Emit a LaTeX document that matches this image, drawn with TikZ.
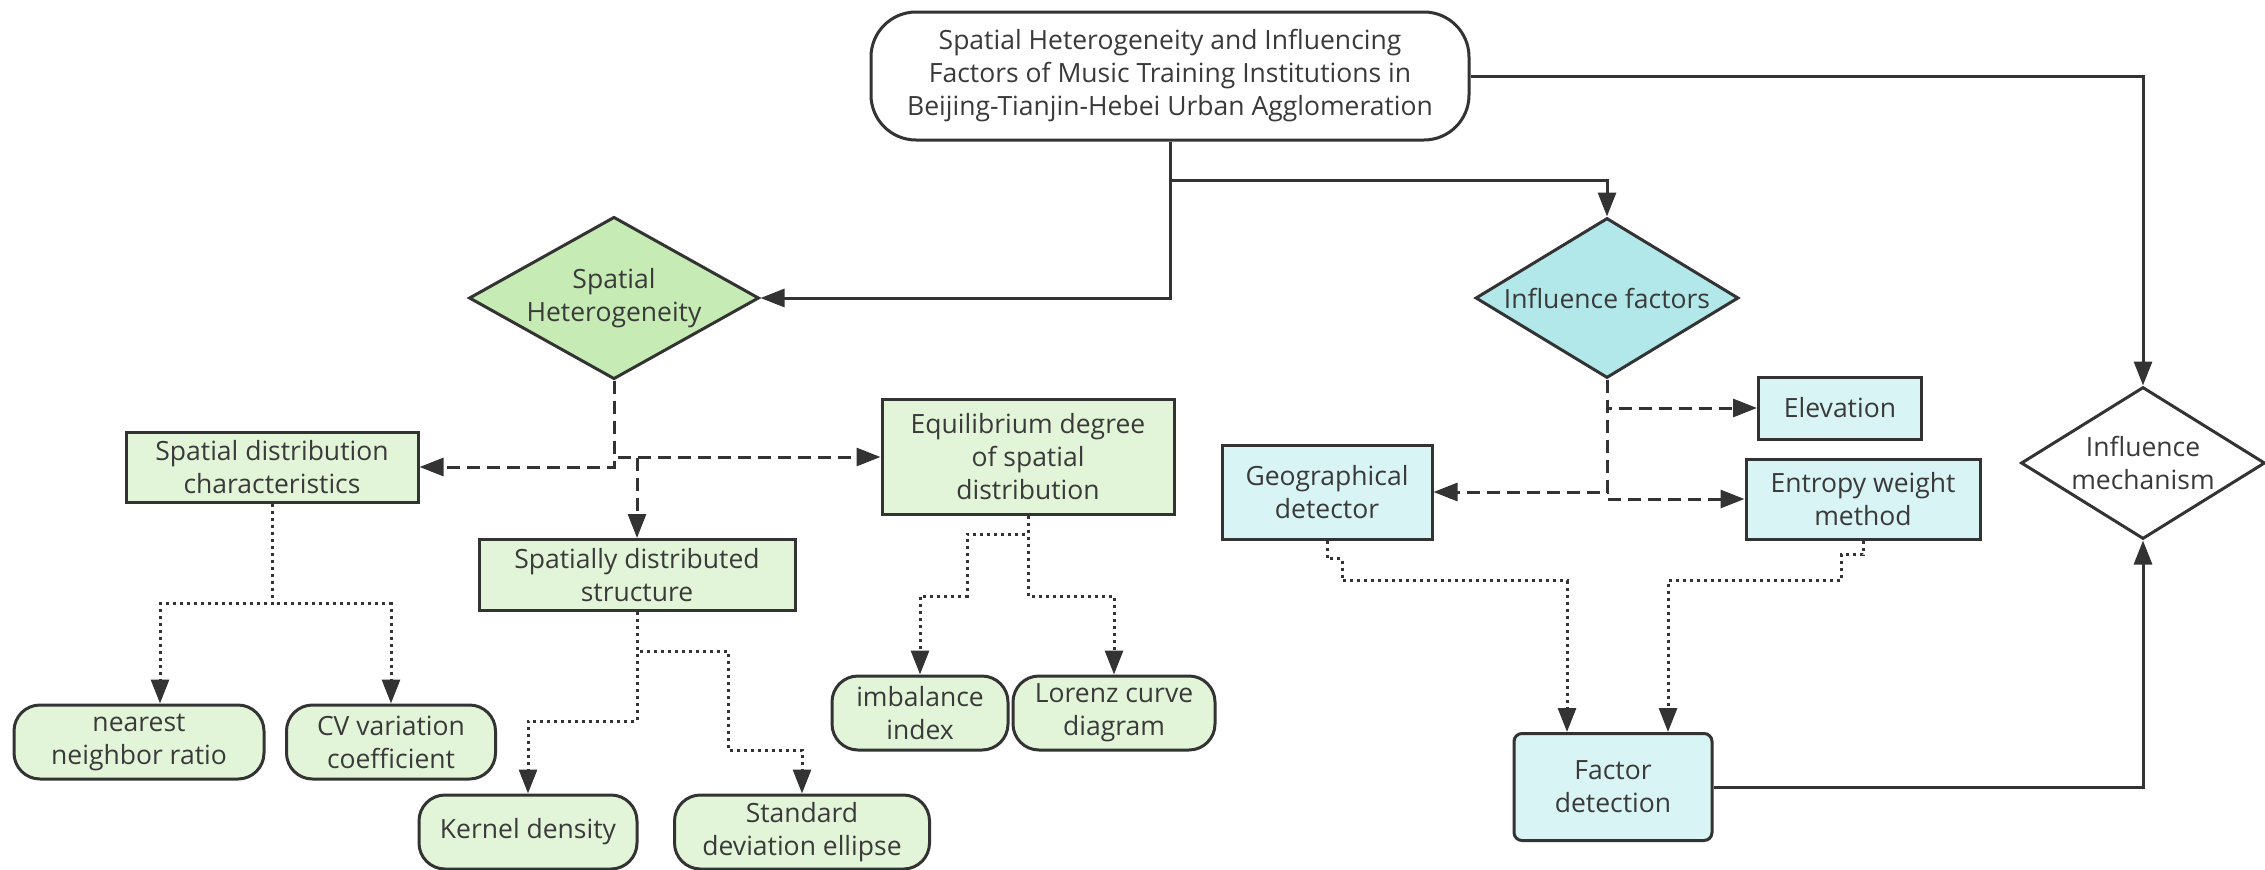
\documentclass[tikz,border=0pt]{standalone}
\usepackage{fontspec}
\setmainfont{Open Sans}
\usetikzlibrary{shapes.geometric,arrows.meta}
\definecolor{linegray}{HTML}{333333}
\definecolor{textgray}{HTML}{3A3A3A}
\definecolor{greendia}{HTML}{C7EBB5}
\definecolor{greenfill}{HTML}{E3F5D9}
\definecolor{cyandia}{HTML}{B3E8EA}
\definecolor{cyanfill}{HTML}{D9F4F4}
\begin{document}
\begin{tikzpicture}[x=1pt,y=-1pt,
		font=\fontsize{26.5}{33}\selectfont,
		every node/.style={align=center,inner sep=0pt,text=textgray,draw=linegray,line width=3pt},
		greenbox/.style={rectangle,fill=greenfill},
		greenpill/.style={rectangle,rounded corners=26pt,fill=greenfill,minimum height=74pt},
		cyanbox/.style={rectangle,fill=cyanfill},
		decision/.style={diamond,shape aspect=1.7},
		solidline/.style={draw=linegray,line width=3pt,-{Triangle[length=24pt,width=18pt]}},
		dashedline/.style={solidline,dash pattern=on 13pt off 7pt},
		dottedline/.style={solidline,dash pattern=on 3pt off 4pt}]
		\useasboundingbox (0,0) rectangle (2265,870);
		% top
		\node[rectangle,rounded corners=45pt,fill=white,minimum width=598pt,minimum height=128pt] (title) at (1170,76) {Spatial Heterogeneity and Influencing\\Factors of Music Training Institutions in\\Beijing-Tianjin-Hebei Urban Agglomeration};
		\node[decision,fill=greendia,minimum width=290pt,minimum height=160pt] (sh) at (614,298) {Spatial\\Heterogeneity};
		\node[decision,fill=cyandia,minimum width=263pt,minimum height=160pt] (inf) at (1607,298) {Influence factors};
		\node[decision,fill=white,minimum width=244pt,minimum height=152pt] (mech) at (2143,463) {Influence\\mechanism};
		% spatial heterogeneity side
		\node[greenbox,minimum width=292pt,minimum height=70pt] (sdc) at (272,467) {Spatial distribution\\characteristics};
		\node[greenbox,minimum width=316pt,minimum height=71pt] (sds) at (637,575) {Spatially distributed\\structure};
		\node[greenbox,minimum width=292pt,minimum height=115pt] (equi) at (1028,457) {Equilibrium degree\\of spatial\\distribution};
		\node[greenpill,minimum width=250pt] (nnr) at (139,742) {nearest\\neighbor ratio};
		\node[greenpill,minimum width=209pt] (cv) at (391,742) {CV variation\\coefficient};
		\node[greenpill,minimum width=218pt] (kd) at (528,832) {Kernel density};
		\node[greenpill,minimum width=255pt] (sde) at (802,832) {Standard\\deviation ellipse};
		\node[greenpill,minimum width=176pt] (imb) at (920,713) {imbalance\\index};
		\node[greenpill,minimum width=202pt] (lor) at (1114,713) {Lorenz curve\\diagram};
		% influence side
		\node[cyanbox,minimum width=210pt,minimum height=94pt] (geo) at (1327,492) {Geographical\\detector};
		\node[cyanbox,minimum width=163pt,minimum height=62pt] (elev) at (1840,408) {Elevation};
		\node[cyanbox,minimum width=234pt,minimum height=80pt] (ent) at (1863,499) {Entropy weight\\method};
		\node[cyanbox,rounded corners=8pt,minimum width=198pt,minimum height=107pt] (fd) at (1613,787) {Factor\\detection};
		% connectors
		\draw[solidline] (title.east) -| (mech.north);
		\draw[solidline] (title.south) -- ++(0,39) -| (inf.north);
		\draw[solidline] (title.south) |- (sh.east);
		\draw[dashedline] (sh.south) |- (sdc.east);
		\draw[dashedline] (sh.south) |- (equi.west);
		\draw[dashedline] (sh.south) |- (sds.north |- equi.west) -- (sds.north);
		\draw[dottedline] (sdc.south) -- ++(0,100) -| ([xshift=21pt]nnr.north);
		\draw[dottedline] (sdc.south) -- ++(0,100) -| (cv.north);
		\draw[dottedline] (sds.south) -- ++(0,109) -| (kd.north);
		\draw[dottedline] (sds.south) -- ++(0,39) -| ++(91,99) -| (sde.north);
		\draw[dottedline] (equi.south) -- ++(0,18) -| ++(-61,62) -| (imb.north);
		\draw[dottedline] (equi.south) -- ++(0,80) -| (lor.north);
		\draw[dashedline] (inf.south) |- (elev.west);
		\draw[dashedline] (inf.south) |- (geo.east);
		\draw[dashedline] (inf.south) |- (ent.west);
		\draw[dottedline] (geo.south) -- ++(0,18) -| ++(15,22) -| ([xshift=-46pt]fd.north);
		\draw[dottedline] (ent.south) -- ++(0,14) -| ++(-22,26) -| ([xshift=55pt]fd.north);
		\draw[solidline] (fd.east) -| (mech.south);
\end{tikzpicture}
\end{document}
